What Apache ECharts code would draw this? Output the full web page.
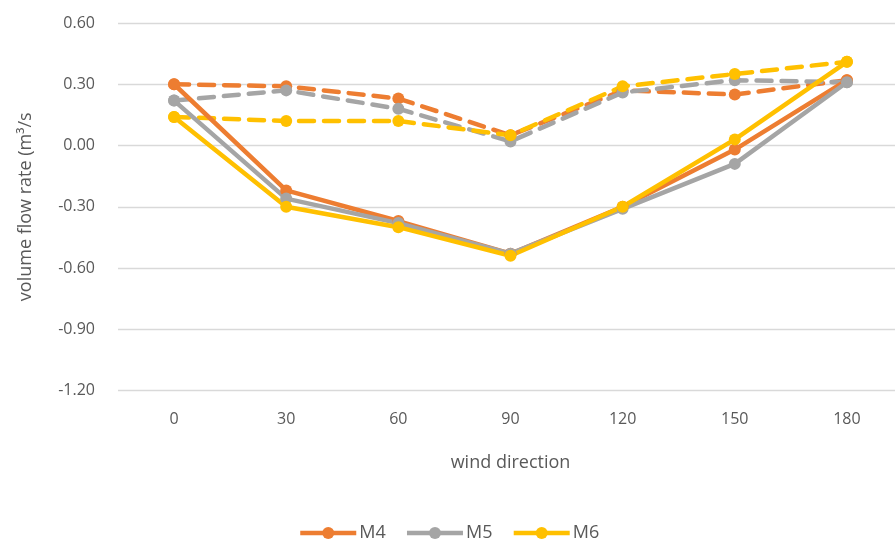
<!DOCTYPE html>
<html>
<head>
<meta charset="utf-8">
<script src="https://cdn.jsdelivr.net/npm/echarts@6/dist/echarts.min.js"></script>
<style>
html,body{margin:0;padding:0;background:#fff;overflow:hidden;}
#chart{width:903px;height:542px;}
</style>
</head>
<body>
<div id="chart"></div>
<script>
var categories = ['0','30','60','90','120','150','180'];
var m4Solid = [0.30, -0.22, -0.37, -0.53, -0.30, -0.02, 0.32];
var m5Solid = [0.22, -0.26, -0.38, -0.53, -0.31, -0.09, 0.31];
var m6Solid = [0.14, -0.30, -0.40, -0.54, -0.30, 0.03, 0.41];
var m4Dashed = [0.30, 0.29, 0.23, 0.05, 0.27, 0.25, 0.32];
var m5Dashed = [0.22, 0.27, 0.18, 0.02, 0.26, 0.32, 0.31];
var m6Dashed = [0.14, 0.12, 0.12, 0.05, 0.29, 0.35, 0.41];
var yTicks = {min: -1.2, max: 0.6, interval: 0.3};

var colors = {M4: '#ED7D31', M5: '#A5A5A5', M6: '#FFC000'};
var font = 'Open Sans';

function solid(name, data) {
  return {
    name: name, type: 'line', data: data,
    symbol: 'circle', symbolSize: 12,
    lineStyle: {width: 4.5, color: colors[name]},
    itemStyle: {color: colors[name]},
    emphasis: {disabled: true},
    z: 3
  };
}
function dashed(name, data) {
  return {
    name: name + ' dashed', type: 'line', data: data,
    symbol: 'circle', symbolSize: 12,
    lineStyle: {width: 4.5, color: colors[name], type: [15, 10], cap: 'round'},
    itemStyle: {color: colors[name]},
    emphasis: {disabled: true},
    z: 2
  };
}

var chart = echarts.init(document.getElementById('chart'));
chart.setOption({
  animation: false,
  textStyle: {fontFamily: font},
  grid: {left: 118, top: 23, width: 785, height: 367.5},
  legend: {
    data: ['M4', 'M5', 'M6'],
    top: 524, left: 298, padding: 0,
    itemWidth: 56, itemHeight: 15, itemGap: 19,
    lineStyle: {width: 4.5},
    textStyle: {color: '#595959', fontSize: 18, fontFamily: font, padding: [0, 0, 0, -2]}
  },
  xAxis: {
    type: 'category', data: categories,
    boundaryGap: true,
    axisLine: {show: false}, axisTick: {show: false},
    axisLabel: {color: '#595959', fontSize: 16, margin: 21},
    name: 'wind direction', nameLocation: 'middle', nameGap: 63,
    nameTextStyle: {color: '#595959', fontSize: 18}
  },
  yAxis: {
    type: 'value', min: yTicks.min, max: yTicks.max, interval: yTicks.interval,
    axisLine: {show: false}, axisTick: {show: false},
    splitLine: {lineStyle: {color: '#D9D9D9', width: 1.3}},
    axisLabel: {color: '#595959', fontSize: 16, margin: 23,
      formatter: function (v) { return v.toFixed(2); }},
    name: 'volume flow rate (m³/s', nameLocation: 'middle', nameGap: 83,
    nameTextStyle: {color: '#595959', fontSize: 18}
  },
  series: [
    dashed('M4', m4Dashed), dashed('M5', m5Dashed), dashed('M6', m6Dashed),
    solid('M4', m4Solid), solid('M5', m5Solid), solid('M6', m6Solid)
  ]
});
</script>
</body>
</html>
